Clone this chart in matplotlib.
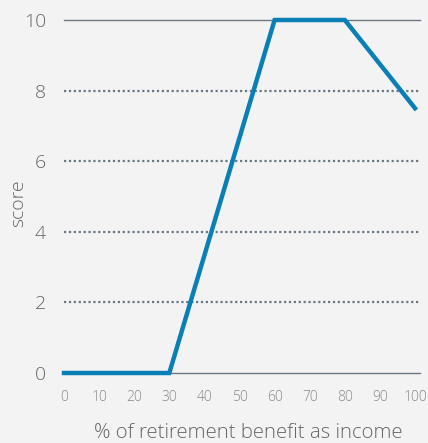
import matplotlib
matplotlib.use("Agg")
import matplotlib.pyplot as plt

pct = [0, 30, 60, 80, 100]
score = [0, 0, 10, 10, 7.5]
yticks = [0, 2, 4, 6, 8, 10]
xticks = [0, 10, 20, 30, 40, 50, 60, 70, 80, 90, 100]

plt.rcParams['font.family'] = ['Open Sans', 'DejaVu Sans']
plt.rcParams['font.weight'] = 'light'
W, H = 428, 443
fig = plt.figure(figsize=(W/100, H/100), dpi=100, facecolor='#f3f3f3')
ax = fig.add_axes([64/W, 1-373/H, (415-64)/W, (373-20)/H])
ax.set_facecolor('#f3f3f3')
ax.set_xlim(0, 100)
ax.set_ylim(0, 10)

grid_c = '#6a7886'
for y in yticks:
    if y in (0, 10):
        ax.plot([0, 101.5], [y, y], color=grid_c, lw=1.0, clip_on=False, zorder=1)
    else:
        ax.plot([0, 101.5], [y, y], color=grid_c, lw=1.6, ls=(0, (1, 1.2)), clip_on=False, zorder=1)

ax.plot(pct, score, color='#0a7fb5', lw=3.2, clip_on=False, zorder=3, solid_joinstyle='miter')

for s in ax.spines.values():
    s.set_visible(False)
ax.tick_params(length=0)
ax.set_yticks(yticks)
ax.set_yticklabels([str(v) for v in yticks], fontsize=14, color='#666666', fontweight='light')
ax.tick_params(axis='y', pad=13)
ax.set_xticks(xticks)
ax.set_xticklabels([str(v) for v in xticks], fontsize=10, color='#888888', fontweight='light')
ax.tick_params(axis='x', pad=12)
ax.set_xlabel('% of retirement benefit as income', fontsize=14.7, color='#666666', fontweight='light')
ax.xaxis.set_label_coords((248-64)/(415-64), -(433-373)/(373-20))
ax.xaxis.label.set_va('center')
ax.set_ylabel('score', fontsize=14, color='#666666', fontweight='light')
ax.yaxis.set_label_coords(-(64-18)/(415-64), (373-203)/(373-20))
ax.yaxis.label.set_va('center')

fig.savefig('out.png', dpi=100, facecolor=fig.get_facecolor())
